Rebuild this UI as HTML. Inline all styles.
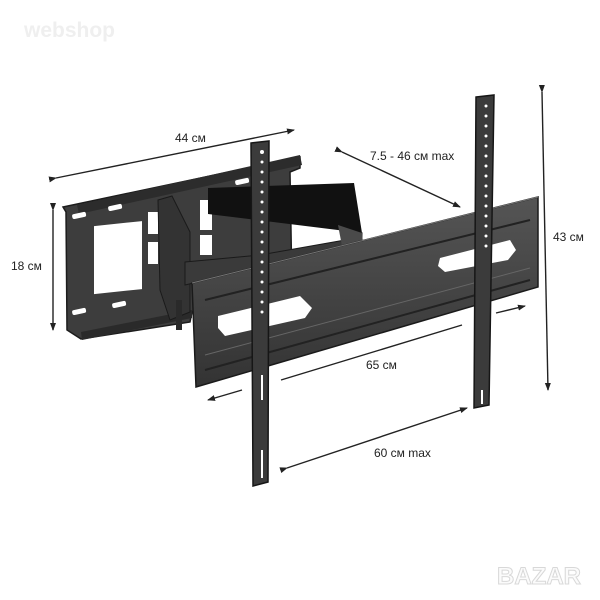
<!DOCTYPE html>
<html><head><meta charset="utf-8"><style>
html,body{margin:0;padding:0;background:#fff;}
svg{display:block;}
text{font-family:"Liberation Sans",sans-serif;}
</style></head><body>
<svg width="600" height="600" viewBox="0 0 600 600" xmlns="http://www.w3.org/2000/svg">
<defs>
<marker id="a" markerWidth="8" markerHeight="8" refX="7" refY="4" orient="auto" markerUnits="userSpaceOnUse"><path d="M0,1 L8,4 L0,7 Z" fill="#222"/></marker>
<linearGradient id="rail" x1="0" y1="0" x2="0" y2="1"><stop offset="0" stop-color="#555"/><stop offset="1" stop-color="#333"/></linearGradient>
</defs>
<text x="24" y="37" font-size="21" font-weight="bold" fill="#efefef">webshop</text>

<!-- wall plate -->
<polygon points="63,207 300,157 300,168 290,172 292,290 192,312 190,322 81,339 67,330 66,212" fill="#3d3d3d" stroke="#1c1c1c" stroke-width="1.5"/>
<polygon points="77,205 300,155 302,165 79,214" fill="#2c2c2c"/>
<polygon points="81,332 192,310 192,318 82,340" fill="#2a2a2a"/>
<rect x="94" y="224" width="48" height="68" fill="#fff" transform="skewY(-6) translate(0,12)"/>
<g fill="#fff">
<rect x="72" y="213" width="14" height="5" rx="2" transform="rotate(-12 79 215)"/>
<rect x="108" y="205" width="14" height="5" rx="2" transform="rotate(-12 115 207)"/>
<rect x="235" y="179" width="14" height="5" rx="2" transform="rotate(-12 242 181)"/>
<rect x="72" y="309" width="14" height="5" rx="2" transform="rotate(-12 79 311)"/>
<rect x="112" y="302" width="14" height="5" rx="2" transform="rotate(-12 119 304)"/>
<rect x="148" y="212" width="10" height="22"/>
<rect x="148" y="242" width="10" height="22"/>
<rect x="200" y="200" width="12" height="30"/>
<rect x="200" y="235" width="12" height="20"/>
</g>
<!-- pivot bracket -->
<polygon points="158,200 172,196 190,232 190,312 170,320 160,290" fill="#333" stroke="#1a1a1a"/>
<rect x="176" y="300" width="6" height="30" fill="#2a2a2a"/>
<!-- arm -->
<polygon points="208,188 354,183 362,233 208,214" fill="#111"/>
<polygon points="185,262 260,255 345,240 362,233 362,265 250,270 185,285" fill="#3a3a3a" stroke="#1a1a1a"/>
<polygon points="338,225 362,233 365,265 345,262" fill="#4a4a4a"/>

<!-- main rail -->
<polygon points="192,283 538,197 538,287 196,387" fill="url(#rail)" stroke="#1a1a1a" stroke-width="1.5"/>
<polyline points="192,283 538,197" stroke="#777" stroke-width="1" fill="none"/>
<polyline points="205,300 530,220" stroke="#222" stroke-width="2" fill="none"/>
<polyline points="205,370 530,280" stroke="#222" stroke-width="2" fill="none"/>
<polyline points="205,355 530,268" stroke="#666" stroke-width="1" fill="none"/>
<g fill="#fff">
<path d="M218,316 L300,296 L312,308 L305,318 L225,336 L218,328 Z"/>
<path d="M440,258 L510,240 L516,250 L508,260 L445,272 L438,266 Z"/>
</g>

<!-- left vertical bar -->
<polygon points="251,143 269,141 268,482 253,486" fill="#3b3b3b" stroke="#161616" stroke-width="1.5"/>
<g fill="#fff">
<circle cx="262" cy="152" r="2"/><circle cx="262" cy="162" r="1.5"/><circle cx="262" cy="172" r="1.5"/><circle cx="262" cy="182" r="1.5"/><circle cx="262" cy="192" r="1.5"/><circle cx="262" cy="202" r="1.5"/><circle cx="262" cy="212" r="1.5"/><circle cx="262" cy="222" r="1.5"/><circle cx="262" cy="232" r="1.5"/><circle cx="262" cy="242" r="1.5"/><circle cx="262" cy="252" r="1.5"/><circle cx="262" cy="262" r="1.5"/><circle cx="262" cy="272" r="1.5"/><circle cx="262" cy="282" r="1.5"/><circle cx="262" cy="292" r="1.5"/><circle cx="262" cy="302" r="1.5"/><circle cx="262" cy="312" r="1.5"/>
<rect x="261" y="375" width="2" height="25"/><rect x="261" y="450" width="2" height="28"/>
</g>
<!-- right vertical bar -->
<polygon points="476,97 494,95 489,405 474,408" fill="#3b3b3b" stroke="#161616" stroke-width="1.5"/>
<g fill="#fff">
<circle cx="486" cy="106" r="1.5"/><circle cx="486" cy="116" r="1.5"/><circle cx="486" cy="126" r="1.5"/><circle cx="486" cy="136" r="1.5"/><circle cx="486" cy="146" r="1.5"/><circle cx="486" cy="156" r="1.5"/><circle cx="486" cy="166" r="1.5"/><circle cx="486" cy="176" r="1.5"/><circle cx="486" cy="186" r="1.5"/><circle cx="486" cy="196" r="1.5"/><circle cx="486" cy="206" r="1.5"/><circle cx="486" cy="216" r="1.5"/><circle cx="486" cy="226" r="1.5"/><circle cx="486" cy="236" r="1.5"/><circle cx="486" cy="246" r="1.5"/>
<rect x="481" y="390" width="2" height="14"/>
</g>

<!-- dimension lines -->
<g stroke="#222" stroke-width="1.4" fill="none">
<line x1="56" y1="178" x2="294" y2="130" marker-start="url(#a)" marker-end="url(#a)"/>
<line x1="342" y1="152" x2="460" y2="207" marker-start="url(#a)" marker-end="url(#a)"/>
<line x1="542" y1="92" x2="548" y2="390" marker-start="url(#a)" marker-end="url(#a)"/>
<line x1="53" y1="210" x2="53" y2="330" marker-start="url(#a)" marker-end="url(#a)"/>
<line x1="281" y1="380" x2="462" y2="325"/>
<line x1="496" y1="313" x2="525" y2="306" marker-end="url(#a)"/>
<line x1="242" y1="390" x2="208" y2="400" marker-end="url(#a)"/>
<line x1="287" y1="468" x2="467" y2="408" marker-start="url(#a)" marker-end="url(#a)"/>
</g>
<g font-size="12" fill="#222">
<text x="175" y="142">44 см</text>
<text x="370" y="160">7.5 - 46 см max</text>
<text x="553" y="241">43 см</text>
<text x="11" y="270">18 см</text>
<text x="366" y="369">65 см</text>
<text x="374" y="457">60 см max</text>
</g>
<text x="497" y="584" font-size="24" font-weight="bold" fill="#fbfbfb" stroke="#d8d8d8" stroke-width="1">BAZAR</text>
</svg>
</body></html>
